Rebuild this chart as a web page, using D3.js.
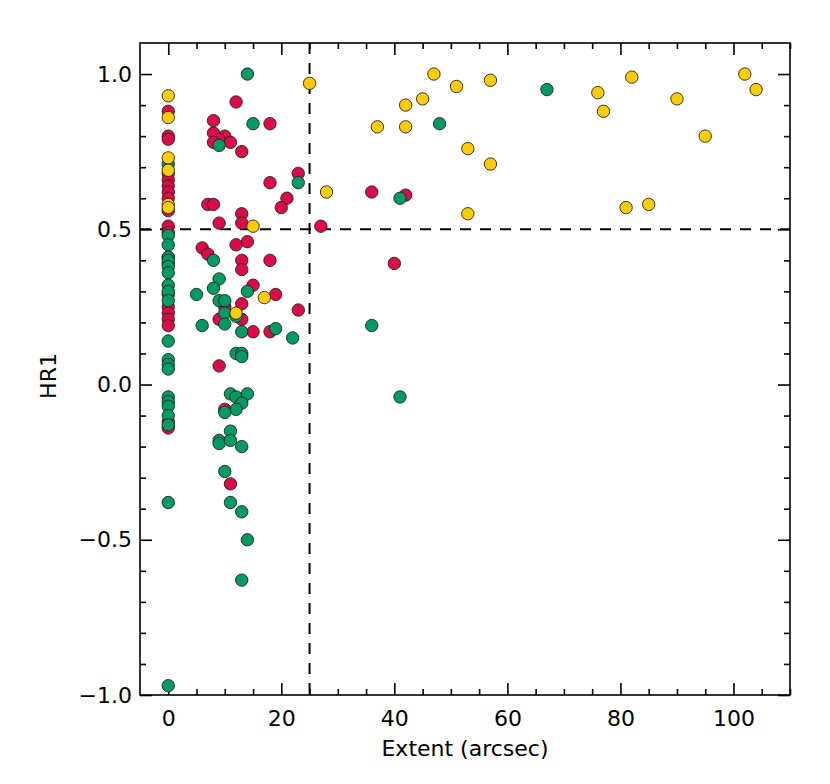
<!DOCTYPE html>
<html>
<head>
<meta charset="utf-8">
<script src="https://cdn.jsdelivr.net/npm/d3@7"></script>
<style>
  body { margin: 0; background: #fff; }
  text { font-family: "DejaVu Sans", sans-serif; fill: #000; }
</style>
</head>
<body>
<div id="chart"></div>
<script>
// [extent (arcsec), HR1] per group
const redPoints = [
  [0, 0.88], [0, 0.80], [0, 0.79], [0, 0.68], [0, 0.66], [0, 0.64], [0, 0.62], [0, 0.60],
  [0, 0.56], [0, 0.51], [0, 0.49], [0, 0.41], [0, 0.39], [0, 0.29], [0, 0.25], [0, 0.23],
  [0, 0.21], [0, 0.19], [0, -0.12], [0, -0.14],
  [12, 0.91], [8, 0.85], [18, 0.84], [8, 0.81], [10, 0.80], [9, 0.79], [8, 0.78], [11, 0.78],
  [13, 0.75], [23, 0.68], [18, 0.65], [21, 0.60], [20, 0.57], [7, 0.58], [8, 0.58], [13, 0.55],
  [9, 0.52], [13, 0.52], [14, 0.46], [6, 0.44], [7, 0.42], [12, 0.45], [13, 0.40], [13, 0.37],
  [18, 0.40], [15, 0.32], [19, 0.29], [23, 0.24], [13, 0.26], [10, 0.25], [9, 0.21], [13, 0.21],
  [15, 0.17], [18, 0.17], [9, 0.06], [13, -0.05], [10, -0.08], [11, -0.32],
  [36, 0.62], [42, 0.61], [27, 0.51], [40, 0.39]
];

const greenPoints = [
  [0, 0.71], [0, 0.48], [0, 0.45], [0, 0.41], [0, 0.40], [0, 0.38], [0, 0.36], [0, 0.32],
  [0, 0.30], [0, 0.27], [0, 0.14], [0, 0.08], [0, 0.065], [0, 0.05], [0, -0.04], [0, -0.055],
  [0, -0.07], [0, -0.10], [0, -0.13], [0, -0.38], [0, -0.97],
  [14, 1.00], [15, 0.84], [9, 0.77], [23, 0.65], [8, 0.40], [9, 0.34], [8, 0.31], [5, 0.29],
  [14, 0.30], [9, 0.27], [10, 0.27], [10, 0.23], [12, 0.22], [10, 0.195], [6, 0.19], [13, 0.17],
  [19, 0.18], [22, 0.15], [12, 0.10], [13, 0.10], [13, 0.09], [11, -0.03], [12, -0.04],
  [14, -0.03], [13, -0.06], [12, -0.08], [10, -0.09], [11, -0.15], [9, -0.18], [9, -0.19],
  [11, -0.18], [13, -0.20], [10, -0.28], [11, -0.38], [13, -0.41], [14, -0.50], [13, -0.63],
  [48, 0.84], [67, 0.95], [41, 0.60], [36, 0.19], [41, -0.04]
];

const yellowPoints = [
  [0, 0.93], [0, 0.86], [0, 0.73], [0, 0.69], [0, 0.58], [0, 0.57],
  [15, 0.51], [12, 0.23], [17, 0.28], [25, 0.97], [28, 0.62], [37, 0.83], [42, 0.90],
  [42, 0.83], [45, 0.92], [47, 1.00], [51, 0.96], [53, 0.76], [53, 0.55], [57, 0.98],
  [57, 0.71], [76, 0.94], [77, 0.88], [81, 0.57], [82, 0.99], [85, 0.58], [90, 0.92],
  [95, 0.80], [102, 1.00], [104, 0.95]
];

const xTicks = [0, 20, 40, 60, 80, 100];
const yTicks = [-1.0, -0.5, 0.0, 0.5, 1.0];
const extentCut = 25;
const hrCut = 0.5;

const width = 830, height = 784;
const margin = { top: 43, right: 40, bottom: 89, left: 140 };

const svg = d3.select('#chart')
  .append('svg')
  .attr('width', width)
  .attr('height', height);

const x = d3.scaleLinear().domain([-5, 110]).range([margin.left, width - margin.right]);
const y = d3.scaleLinear().domain([-1, 1.1]).range([height - margin.bottom, margin.top]);

const x0 = margin.left, x1 = width - margin.right;
const y0 = height - margin.bottom, y1 = margin.top;

// ticks on all four sides, IDL style
const xMinor = d3.range(0, 111, 5).filter(v => v % 20 !== 0);
const yMinor = d3.range(-10, 11).map(v => v / 10).filter(v => Math.round(v * 10) % 5 !== 0);

svg.append('g')
  .attr('transform', `translate(0,${y0})`)
  .call(d3.axisBottom(x).tickValues(xTicks).tickSize(-12).tickPadding(15).tickFormat(d3.format('d')))
  .call(g => g.select('.domain').remove());
svg.append('g')
  .attr('transform', `translate(0,${y0})`)
  .call(d3.axisBottom(x).tickValues(xMinor).tickSize(-6).tickFormat(''))
  .call(g => g.select('.domain').remove());
svg.append('g')
  .attr('transform', `translate(0,${y1})`)
  .call(d3.axisTop(x).tickValues(xTicks).tickSize(-12).tickFormat(''))
  .call(g => g.select('.domain').remove());
svg.append('g')
  .attr('transform', `translate(0,${y1})`)
  .call(d3.axisTop(x).tickValues(xMinor).tickSize(-6).tickFormat(''))
  .call(g => g.select('.domain').remove());

svg.append('g')
  .attr('transform', `translate(${x0},0)`)
  .call(d3.axisLeft(y).tickValues(yTicks).tickSize(-12).tickPadding(8).tickFormat(d3.format('.1f')))
  .call(g => g.select('.domain').remove());
svg.append('g')
  .attr('transform', `translate(${x0},0)`)
  .call(d3.axisLeft(y).tickValues(yMinor).tickSize(-6).tickFormat(''))
  .call(g => g.select('.domain').remove());
svg.append('g')
  .attr('transform', `translate(${x1},0)`)
  .call(d3.axisRight(y).tickValues(yTicks).tickSize(-12).tickFormat(''))
  .call(g => g.select('.domain').remove());
svg.append('g')
  .attr('transform', `translate(${x1},0)`)
  .call(d3.axisRight(y).tickValues(yMinor).tickSize(-6).tickFormat(''))
  .call(g => g.select('.domain').remove());

svg.selectAll('.tick line').attr('stroke', '#000').attr('stroke-width', 1.6);
svg.selectAll('.tick text')
  .attr('font-size', 22)
  .text(function() { return this.textContent.replace('-', '\u2212'); });

// frame
svg.append('rect')
  .attr('x', x0).attr('y', y1)
  .attr('width', x1 - x0).attr('height', y0 - y1)
  .attr('fill', 'none')
  .attr('stroke', '#000')
  .attr('stroke-width', 1.6);

// cut lines
svg.append('line')
  .attr('x1', x(extentCut)).attr('x2', x(extentCut))
  .attr('y1', y1).attr('y2', y0)
  .attr('stroke', '#000').attr('stroke-width', 2)
  .attr('stroke-dasharray', '11,9');
svg.append('line')
  .attr('x1', x0).attr('x2', x1)
  .attr('y1', y(hrCut)).attr('y2', y(hrCut))
  .attr('stroke', '#000').attr('stroke-width', 2)
  .attr('stroke-dasharray', '11,9');

const groups = [
  { pts: redPoints, color: '#dc0a46' },
  { pts: greenPoints, color: '#009a62' },
  { pts: yellowPoints, color: '#ffcc00' }
];

groups.forEach(gr => {
  svg.append('g')
    .selectAll('circle')
    .data(gr.pts)
    .enter().append('circle')
      .attr('cx', d => x(d[0]))
      .attr('cy', d => y(d[1]))
      .attr('r', 6.2)
      .attr('fill', gr.color)
      .attr('stroke', '#222')
      .attr('stroke-width', 0.9);
});

// axis titles
svg.append('text')
  .attr('x', (x0 + x1) / 2)
  .attr('y', 756)
  .attr('text-anchor', 'middle')
  .attr('font-size', 22)
  .text('Extent (arcsec)');

svg.append('text')
  .attr('transform', `translate(56,${(y0 + y1) / 2 + 7}) rotate(-90)`)
  .attr('text-anchor', 'middle')
  .attr('font-size', 22)
  .text('HR1');
</script>
</body>
</html>
